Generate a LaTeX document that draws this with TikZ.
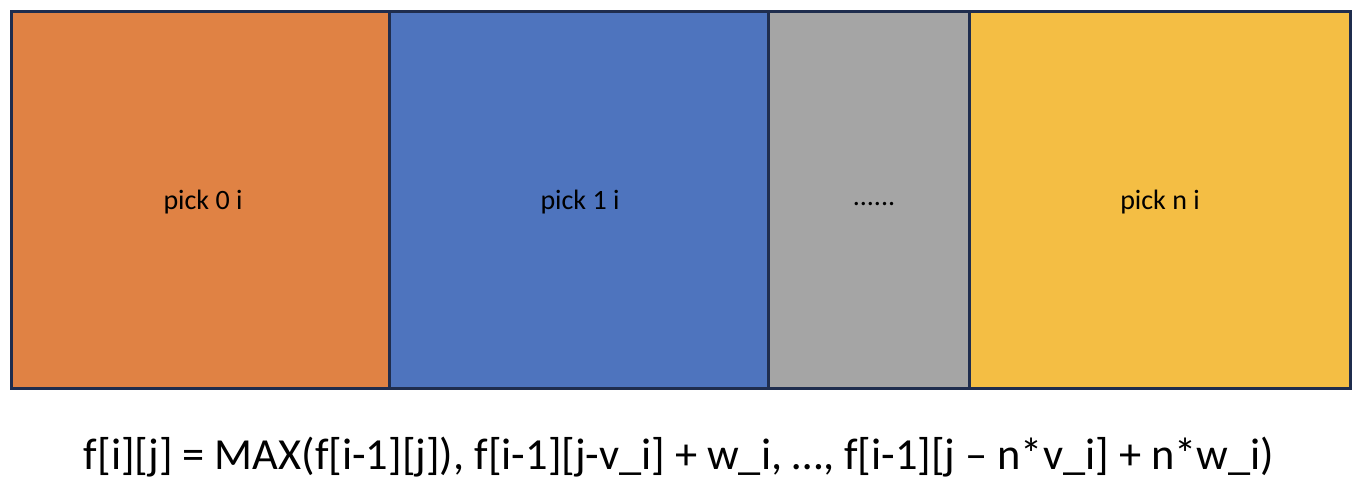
\documentclass[tikz,border=0pt]{standalone}
\usepackage{fontspec}
\setmainfont{Carlito}
\definecolor{cOrange}{HTML}{E08244}
\definecolor{cBlue}{HTML}{4E74BE}
\definecolor{cGray}{HTML}{A5A5A5}
\definecolor{cYellow}{HTML}{F4BE44}
\definecolor{cNavy}{HTML}{1F2D4E}
\begin{document}
\begin{tikzpicture}[x=1pt,y=-1pt,
  cell/.style={draw=cNavy,line width=3pt},
  lab/.style={inner sep=0pt,font=\fontsize{28}{32}\selectfont},
  formula/.style={inner sep=0pt,font=\fontsize{44.4}{50}\selectfont}]
\useasboundingbox (0,0) rectangle (1362,496);
\path[cell,fill=cOrange] (11,11) rectangle (389,388);
\path[cell,fill=cBlue] (389,11) rectangle (768,388);
\path[cell,fill=cGray] (768,11) rectangle (969,388);
\path[cell,fill=cYellow] (969,11) rectangle (1350,388);
\node[lab] (p0) at (203,202) {pick 0 i};
\node[lab] (p1) at (580,202) {pick 1 i};
\node[lab] (pd) at (874,204) {......};
\node[lab] (pn) at (1160,202) {pick n i};
\node[formula] (f) at (679,457) {f[i][j] = MAX(f[i-1][j]), f[i-1][j-v\_i] + w\_i, …, f[i-1][j – n*v\_i] + n*w\_i)};
\end{tikzpicture}
\end{document}
